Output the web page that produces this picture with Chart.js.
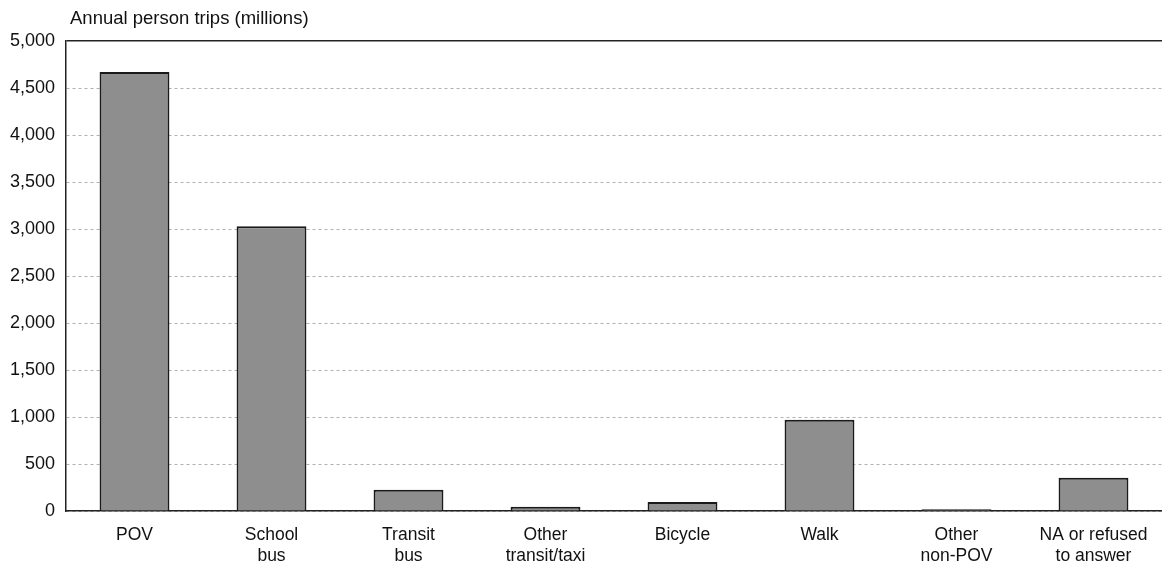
<!DOCTYPE html>
<html>
<head>
<meta charset="utf-8">
<script src="https://cdn.jsdelivr.net/npm/chart.js@4/dist/chart.umd.min.js"></script>
<style>
  html, body { margin: 0; padding: 0; background: #fff; }
  #wrap { width: 1162px; height: 569px; position: relative; }
</style>
</head>
<body>
<div id="wrap"><canvas id="myChart"></canvas></div>
<script>
// data
var categories = [
  'POV', ['School', 'bus'], ['Transit', 'bus'], ['Other', 'transit/taxi'],
  'Bicycle', 'Walk', ['Other', 'non-POV'], ['NA or refused', 'to answer']
];
var trips = [4670, 3030, 225, 45, 95, 972, 18, 354];
var yTitle = 'Annual person trips (millions)';
var yMax = 5000;
var yStep = 500;

var FONT = "'Liberation Sans', Arial, sans-serif";

// axis title sits above the plot, left aligned
var topLabel = {
  id: 'topLabel',
  afterDraw: function (chart) {
    var c = chart.ctx;
    c.save();
    c.font = '18.5px ' + FONT;
    c.fillStyle = '#111';
    c.textBaseline = 'middle';
    c.textAlign = 'left';
    c.fillText(yTitle, chart.chartArea.left + 4, 19);
    c.restore();
  }
};

function BuildChart() {
  var ctx = document.getElementById('myChart').getContext('2d');
  return new Chart(ctx, {
    type: 'bar',
    data: {
      labels: categories,
      datasets: [{
        label: yTitle,
        data: trips,
        backgroundColor: '#8e8e8e',
        borderColor: '#1a1a1a',
        borderWidth: 2,
        barPercentage: 0.51,
        categoryPercentage: 1
      }]
    },
    options: {
      responsive: true,
      maintainAspectRatio: false,
      animation: false,
      layout: { padding: { top: 41, right: 0, bottom: 0, left: 0 } },
      plugins: {
        legend: { display: false },
        tooltip: { enabled: false }
      },
      scales: {
        x: {
          grid: { display: false, drawTicks: false },
          border: { display: true, color: '#222', width: 1.5 },
          ticks: {
            color: '#111',
            font: { family: FONT, size: 17.5, lineHeight: 1.2 },
            padding: 14,
            maxRotation: 0,
            autoSkip: false
          },
          afterFit: function (s) { s.height = 58; }
        },
        y: {
          min: 0,
          max: yMax,
          grid: {
            drawTicks: false,
            color: function (c) {
              return c.tick && c.tick.value === yMax ? '#222' : '#b0b0b0';
            },
            lineWidth: function (c) {
              return c.tick && c.tick.value === yMax ? 1.5 : 1;
            }
          },
          border: {
            display: true,
            color: '#222',
            width: 1.5,
            dash: function (c) {
              return c.tick && c.tick.value === yMax ? [] : [3, 3];
            }
          },
          ticks: {
            stepSize: yStep,
            color: '#111',
            padding: 11,
            font: { family: FONT, size: 18 },
            callback: function (v) { return v.toLocaleString('en-US'); }
          },
          afterFit: function (s) { s.width = 66; }
        }
      }
    },
    plugins: [topLabel]
  });
}

var chart = BuildChart();
</script>
</body>
</html>
